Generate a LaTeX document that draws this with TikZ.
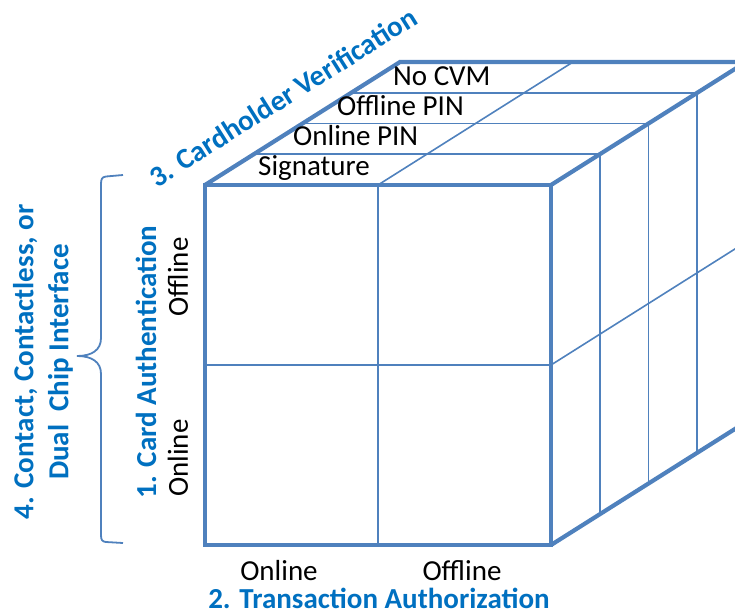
\documentclass[tikz,border=0pt]{standalone}
\usepackage{fontspec}
\setmainfont{Carlito}
\usetikzlibrary{calc}

\definecolor{cubeblue}{RGB}{79,129,189}
\definecolor{labelblue}{RGB}{0,112,192}

\begin{document}
\begin{tikzpicture}[x=1pt, y=-1pt,
		edge/.style={cubeblue, line width=4.2pt, line join=miter},
		grid/.style={cubeblue, line width=1.6pt},
		bracket/.style={cubeblue, line width=1.8pt},
		cell/.style={font=\fontsize{29}{35}\selectfont, inner sep=0pt},
		axis/.style={font=\fontsize{29}{35}\selectfont\bfseries, text=labelblue, inner sep=0pt, align=center}]
		\useasboundingbox (0, 0) rectangle (735, 615);
		\clip (0, 0) rectangle (735, 615);
	
		\coordinate (A) at (205, 185);
		\coordinate (B) at (551, 185);
		\coordinate (C) at (551, 545);
		\coordinate (D) at (205, 545);
		\coordinate (E) at (400, 62);
		\coordinate (F) at (746, 62);
		\coordinate (G) at (746, 422);
	
		% inner grid
		\foreach \k in {1, 2, 3} {
			\draw[grid] ($(A)!\k/4!(E)$) -- ($(B)!\k/4!(F)$);
			\draw[grid] ($(B)!\k/4!(F)$) -- ($(C)!\k/4!(G)$);
		}
		\draw[grid] ($(A)!0.5!(B)$) -- ($(D)!0.5!(C)$);
		\draw[grid] ($(A)!0.5!(D)$) -- ($(B)!0.5!(C)$) -- ($(F)!0.5!(G)$);
		\draw[grid] ($(A)!0.5!(B)$) -- ($(E)!0.5!(F)$);
	
		% outer edges
		\draw[edge] (A) rectangle (C);
		\draw[edge] (A) -- (E) -- (F) -- (B);
		\draw[edge] (C) -- (G) -- (F);
	
		% brace
		\coordinate (braceTop) at (123, 175);
		\coordinate (braceTip) at (77, 356);
		\coordinate (braceBot) at (123, 543);
		\draw[bracket] (braceTop) -- (106, 176.5) .. controls (102, 177) and (101, 179) .. (101, 184)
			-- (101, 338) .. controls (101, 350) and (92, 356) .. (braceTip)
			.. controls (92, 356) and (101, 362) .. (101, 374)
			-- (101, 535) .. controls (101, 540) and (102, 541.5) .. (106, 542) -- (braceBot);
	
		\node[cell, anchor=base west] (nocvm) at (393, 85) {No CVM};
		\node[cell, anchor=base west] (offpin) at (337, 115) {Offline PIN};
		\node[cell, anchor=base west] (onpin) at (293, 145) {Online PIN};
		\node[cell, anchor=base west] (sign) at (258, 175) {Signature};
	
		\node[cell, rotate=90] (caoff) at (178, 277) {Offline};
		\node[cell, rotate=90] (caon) at (178, 458) {Online};
		\node[cell] (taon) at (279, 571) {Online};
		\node[cell] (taoff) at (462, 571) {Offline};
	
		\node[axis, rotate=90] (cardauth) at (146, 362) {1. Card Authentication};
		\node[axis] (transauth) at (379, 598) {2. Transaction Authorization};
		\node[axis, rotate=32.2] (cardver) at (283, 97) {3. Cardholder Verification};
		\node[axis, rotate=90] (iface) at (43, 362) {4. Contact, Contactless, or\\Dual\ \ Chip Interface};
\end{tikzpicture}
\end{document}
